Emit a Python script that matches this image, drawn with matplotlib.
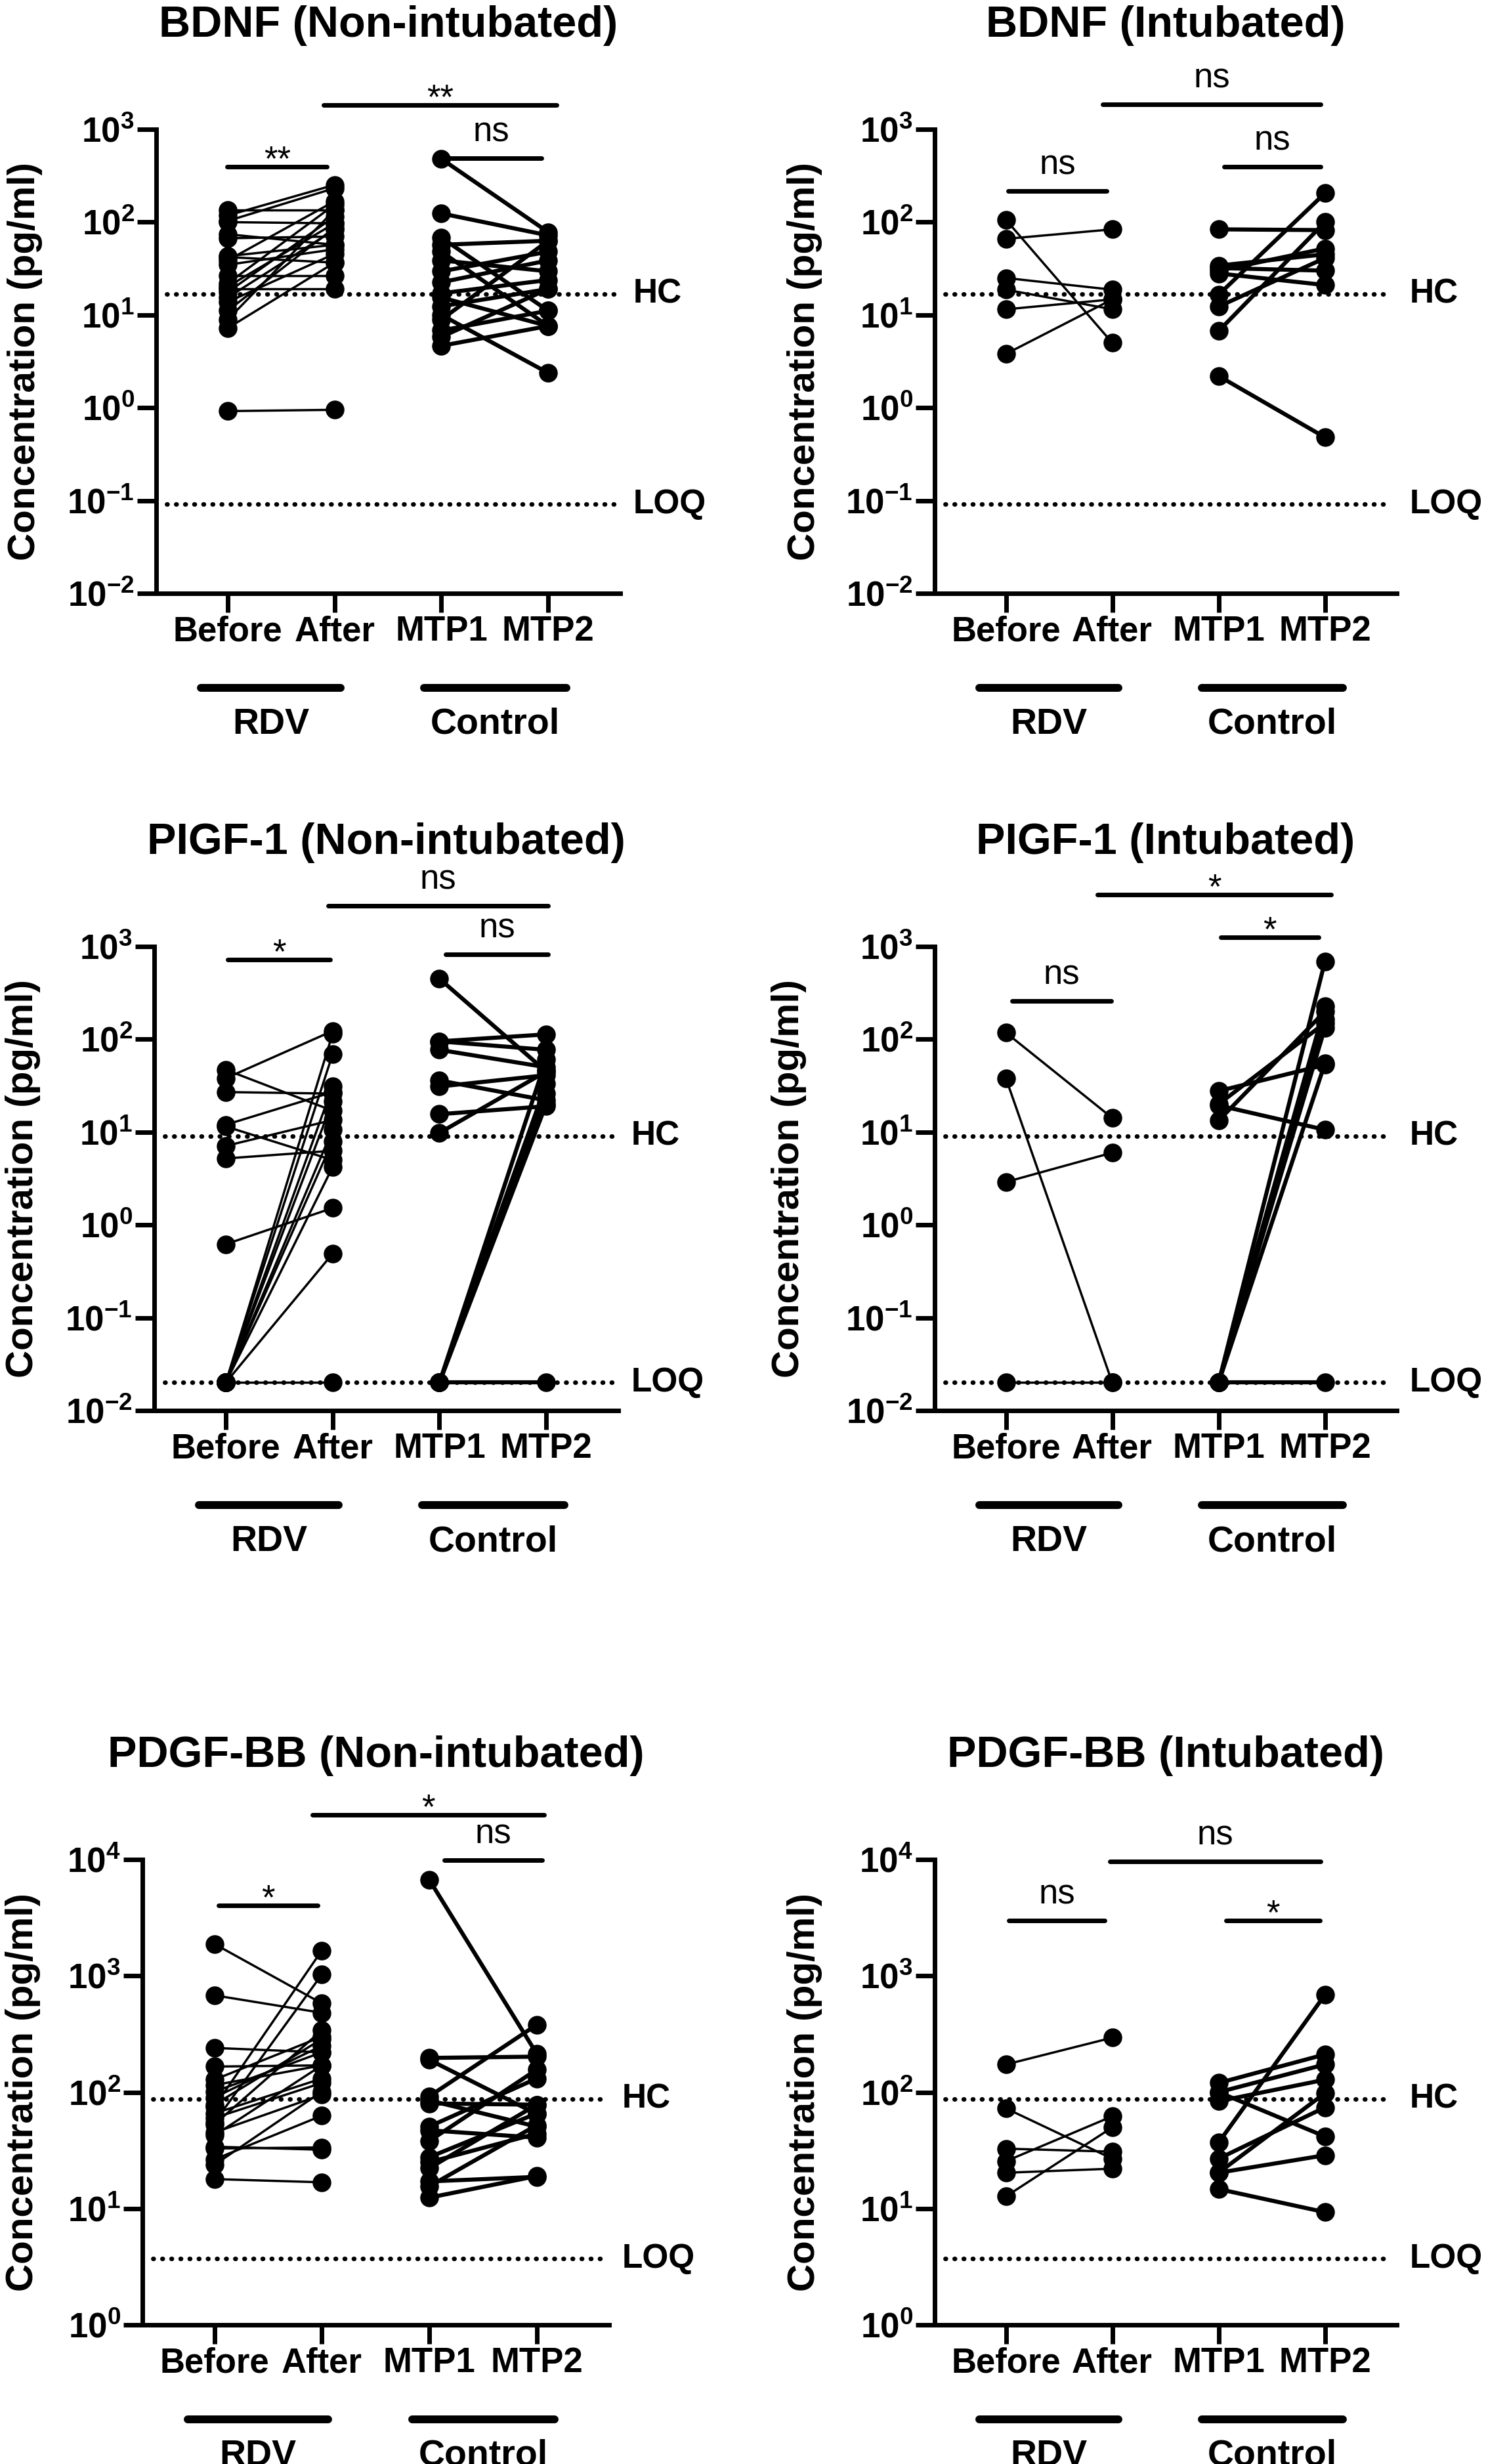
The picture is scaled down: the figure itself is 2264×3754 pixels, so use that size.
import matplotlib.pyplot as plt
from matplotlib.transforms import blended_transform_factory
import numpy as np

plt.rcParams['font.family'] = ['Liberation Sans', 'DejaVu Sans']
plt.rcParams['mathtext.fontset'] = 'custom'
plt.rcParams['mathtext.rm'] = 'Liberation Sans:bold'
plt.rcParams['mathtext.bf'] = 'Liberation Sans:bold'

# ---- data (pg/ml) ----
categories = ['Before', 'After', 'MTP1', 'MTP2']
groups = ['RDV', 'Control']

titles = ['BDNF (Non-intubated)', 'BDNF (Intubated)',
          'PIGF-1 (Non-intubated)', 'PIGF-1 (Intubated)',
          'PDGF-BB (Non-intubated)', 'PDGF-BB (Intubated)']

# BDNF non-intubated
bdnf_non_before = [135, 118, 103, 100, 74, 67, 43, 42, 38.7, 34.7, 26.5, 21.9, 20.2, 19.1, 17.6, 15.4, 13.8, 11.1, 8.9, 7.2, 0.92]
bdnf_non_after = [135, 252, 232, 97, 57, 70, 57, 36.6, 168, 51, 26.5, 154, 97, 19.1, 115, 83, 45.5, 87, 135, 36.6, 0.95]
bdnf_non_mtp1 = [480, 124, 68, 57, 48, 38.7, 29.5, 22.5, 17.1, 15.4, 12.4, 10.0, 8.9, 6.8, 5.8, 4.65]
bdnf_non_mtp2 = [78, 72, 11.1, 63, 7.6, 29.5, 48, 38.7, 23.8, 7.6, 19, 2.37, 63, 11.1, 19, 7.6]

# BDNF intubated
bdnf_int_before = [106, 66, 25, 18.7, 11.5, 3.8]
bdnf_int_after = [5.0, 83.6, 18.7, 11.5, 14.7, 14.7]
bdnf_int_mtp1 = [83.6, 34, 32, 30, 28, 16.5, 12.3, 6.7, 2.2]
bdnf_int_mtp2 = [82, 45, 30, 52, 21, 205, 41, 100, 0.48]

# PIGF-1 non-intubated
pigf_non_before = [47, 38, 27, 12, 11.5, 7.1, 5.2, 0.62, 0.02, 0.02, 0.02, 0.02, 0.02, 0.02, 0.02, 0.02, 0.02]
pigf_non_after = [17, 123, 26, 27, 5.0, 13.5, 6.3, 1.52, 0.49, 115, 69, 31, 21.5, 10.7, 8, 4.2, 0.02]
pigf_non_mtp1 = [450, 95, 95, 77, 36, 31, 15.6, 9.8, 0.02, 0.02, 0.02, 0.02, 0.02]
pigf_non_mtp2 = [45, 113, 77, 50, 22, 41, 19, 45, 61, 33, 26, 20, 0.02]

# PIGF-1 intubated
pigf_int_before = [118, 38, 2.9, 0.02]
pigf_int_after = [14.2, 0.02, 6.0, 0.02]
pigf_int_mtp1 = [27.7, 20, 19.4, 13.3, 0.02, 0.02, 0.02, 0.02, 0.02, 0.02]
pigf_int_mtp2 = [53, 150, 10.6, 200, 690, 226, 165, 133, 55, 0.02]

# PDGF-BB non-intubated
pdgf_non_before = [1880, 680, 240, 166, 75, 55, 128, 101, 78, 65.6, 52.8, 42.5, 32.8, 26.4, 23.7, 17.9, 34, 45, 115, 90, 60]
pdgf_non_after = [580, 481, 220, 170, 1650, 1025, 300, 220, 286, 131, 340, 170, 33.5, 62.8, 101, 16.8, 32, 95, 170, 250, 120]
pdgf_non_mtp1 = [6700, 197, 190, 92, 85, 80, 50.6, 47, 38, 27.6, 25, 22.2, 17.1, 12.4, 15.5]
pdgf_non_mtp2 = [215, 202, 65, 379, 50.6, 78, 131, 40.7, 156, 65.6, 44, 78, 18.7, 19, 52]

# PDGF-BB intubated
pdgf_int_before = [173, 72.6, 32.7, 25.5, 20.3, 12.7]
pdgf_int_after = [294, 26.8, 30.8, 62, 22, 49.8]
pdgf_int_mtp1 = [120, 100, 100, 83.6, 36.9, 26.8, 20.3, 20.3, 14.7]
pdgf_int_mtp2 = [211, 41.6, 173, 128, 687, 74, 28.7, 98, 9.3]

# reference lines (healthy controls, limit of quantification)
hc_values = [16.8, 16.8, 9.0, 9.0, 87, 87]
loq_values = [0.091, 0.091, 0.02, 0.02, 3.7, 3.7]

# significance labels: (RDV pair, After vs MTP2, Control pair)
sig_labels = [('**', '**', 'ns'), ('ns', 'ns', 'ns'),
              ('*', 'ns', 'ns'), ('ns', '*', '*'),
              ('*', '*', 'ns'), ('ns', 'ns', '*')]

panel_data = [
    (bdnf_non_before, bdnf_non_after, bdnf_non_mtp1, bdnf_non_mtp2),
    (bdnf_int_before, bdnf_int_after, bdnf_int_mtp1, bdnf_int_mtp2),
    (pigf_non_before, pigf_non_after, pigf_non_mtp1, pigf_non_mtp2),
    (pigf_int_before, pigf_int_after, pigf_int_mtp1, pigf_int_mtp2),
    (pdgf_non_before, pdgf_non_after, pdgf_non_mtp1, pdgf_non_mtp2),
    (pdgf_int_before, pdgf_int_after, pdgf_int_mtp1, pdgf_int_mtp2),
]
y_decades = [(-2, 3), (-2, 3), (-2, 3), (-2, 3), (0, 4), (0, 4)]

# ---- layout (pixels of the 2264x3754 canvas) ----
W, H = 2264, 3754
boxes = [(238, 945, 197, 904), (1424, 2128, 197, 904),
         (235, 942, 1442, 2149), (1424, 2128, 1442, 2149),
         (217, 928, 2833, 3542), (1424, 2128, 2833, 3542)]
ylabel_x = [38, 1226, 35, 1202, 35, 1226]
# sig bar geometry: (x0, x1, px below axis top)
sig_geom = [
    [(-0.006, 0.93, 57), (0.90, 3.08, -37), (1.99, 2.94, 44)],
    [(0.02, 0.95, 94), (0.91, 2.96, -38), (2.05, 2.96, 57)],
    [(0.02, 0.98, 20), (0.96, 3.02, -62), (2.06, 3.02, 12)],
    [(0.06, 0.99, 83), (0.86, 3.06, -79), (2.02, 2.94, -14)],
    [(0.04, 0.96, 70), (0.91, 3.07, -68), (2.14, 3.05, 1)],
    [(0.03, 0.93, 93), (0.98, 2.96, 3), (2.07, 2.95, 93)],
]

fig = plt.figure(figsize=(W / 100, H / 100), dpi=100)

for i in range(6):
    left, right, top, bottom = boxes[i]
    axw, axh = right - left, bottom - top
    ax = fig.add_axes([left / W, 1 - bottom / H, axw / W, axh / H])
    before, after, mtp1, mtp2 = panel_data[i]
    lo, hi = y_decades[i]

    ax.set_yscale('log')
    ax.set_ylim(10.0 ** lo, 10.0 ** hi)
    ax.set_xlim(-0.67, 3.675)

    # paired lines
    for b, a in zip(before, after):
        ax.plot([0, 1], [b, a], color='black', lw=2.5, zorder=2, clip_on=False)
    for m1, m2 in zip(mtp1, mtp2):
        ax.plot([2, 3], [m1, m2], color='black', lw=4.5, zorder=2, clip_on=False)
    for xpos, vals in zip([0, 1, 2, 3], [before, after, mtp1, mtp2]):
        ax.plot([xpos] * len(vals), vals, 'o', color='black', ms=19.5,
                zorder=3, clip_on=False)

    # HC / LOQ dotted lines
    tr_ax_data = blended_transform_factory(ax.transAxes, ax.transData)
    for val, lab in [(hc_values[i], 'HC'), (loq_values[i], 'LOQ')]:
        ax.plot([-0.57, 3.62], [val, val], color='black', lw=5,
                ls=(0, (0.1, 1.9)), dash_capstyle='round', zorder=1)
        ax.text(1 + 20 / axw, val, lab, transform=tr_ax_data, ha='left',
                va='center', fontsize=37, fontweight='bold')

    # axes styling
    for s in ['top', 'right']:
        ax.spines[s].set_visible(False)
    for s in ['left', 'bottom']:
        ax.spines[s].set_linewidth(5)
    ax.set_xticks([0, 1, 2, 3])
    ax.set_xticklabels(categories, fontsize=38, fontweight='bold')
    decades = np.arange(lo, hi + 1)
    ax.set_yticks(10.0 ** decades)
    ax.set_yticklabels([r'$\mathbf{10^{%d}}$' % d for d in decades], fontsize=38)
    ax.yaxis.set_minor_locator(plt.NullLocator())
    ax.tick_params(axis='both', length=21, width=5, direction='out')
    ax.tick_params(axis='x', pad=3)
    ax.tick_params(axis='y', pad=3)

    # titles and y labels
    cx = (left + right) / 2
    fig.text(cx / W, 1 - (top - 158) / H, titles[i], ha='center', va='center',
             fontsize=48, fontweight='bold')
    fig.text(ylabel_x[i] / W, 1 - (top + bottom) / 2 / H, 'Concentration (pg/ml)',
             rotation=90, ha='center', va='center', fontsize=42, fontweight='bold')

    # group bars below the x axis
    tr_data_ax = blended_transform_factory(ax.transData, ax.transAxes)
    for (x0, x1), g in zip([(-0.25, 1.06), (1.84, 3.17)], groups):
        ax.plot([x0, x1], [-144 / axh] * 2, transform=tr_data_ax, color='black',
                lw=8.6, solid_capstyle='round', clip_on=False)
        ax.text((x0 + x1) / 2, -200 / axh, g, transform=tr_data_ax, ha='center',
                va='center', fontsize=40, fontweight='bold')

    # significance bars
    for (x0, x1, dy), lab in zip(sig_geom[i], sig_labels[i]):
        yb = 1 - dy / axh
        ax.plot([x0, x1], [yb, yb], transform=tr_data_ax, color='black', lw=5,
                solid_capstyle='round', clip_on=False)
        if lab == 'ns':
            ybase = 1 - (dy - 25.6) / axh
        else:
            ybase = 1 - (dy + 5.5) / axh
        ax.text((x0 + x1) / 2, ybase, lab, transform=tr_data_ax, ha='center',
                va='baseline', fontsize=38)

fig.savefig('out.png', dpi=100)
